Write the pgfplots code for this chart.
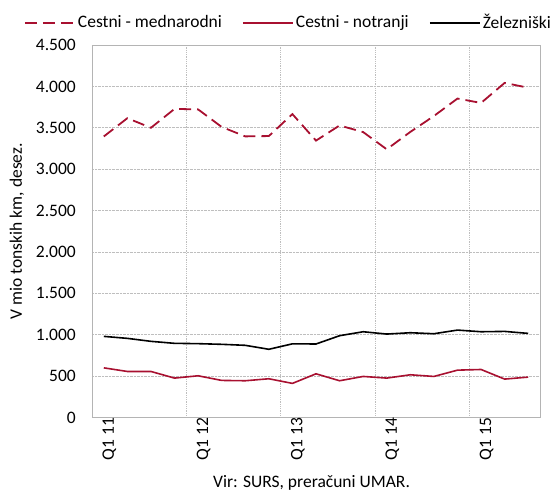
\documentclass[border=0pt]{standalone}
\usepackage{fontspec}
\setmainfont{Carlito}
\usepackage{pgfplots}
\pgfplotsset{compat=1.18}
\definecolor{cestred}{RGB}{168,16,48}
\definecolor{gridgray}{RGB}{190,190,190}
\definecolor{framegray}{RGB}{180,180,180}

% quarters Q1 11 .. Q3 15 at x = 0..18
\begin{document}
\begin{tikzpicture}
\begin{axis}[
    at={(0,0)}, anchor=south west,
    scale only axis,
    width=448bp, height=372.5bp,
    xmin=-0.5, xmax=18.5,
    ymin=0, ymax=4500,
    clip mode=individual,
    xtick={0,4,8,12,16},
    xticklabels={Q1 11, Q1 12, Q1 13, Q1 14, Q1 15},
    minor xtick={3.5,7.5,11.5,15.5},
    xminorgrids, ymajorgrids,
    ytick={0,500,...,4500},
    grid style={gridgray, densely dotted, line width=0.8bp},
    minor grid style={gridgray, densely dotted, line width=0.8bp},
    axis line style={framegray, line width=0.9bp},
    tick style={draw=none},
    font=\fontsize{17.5bp}{20bp}\selectfont,
    /pgf/number format/.cd, 1000 sep={.}, assume math mode=true,
    /pgfplots/.cd,
    yticklabel style={anchor=east, inner sep=0pt, xshift=-16bp},
    xticklabel style={rotate=90, anchor=east, inner sep=0pt, yshift=-5.5bp},
    ylabel={V mio tonskih km, desez.},
    every axis y label/.style={at={([xshift=-75bp]axis description cs:0,0.5)}, rotate=90, anchor=center},
    legend columns=3,
    legend style={draw=none, fill=none, inner sep=0pt, outer sep=0pt,
      at={(axis description cs:0,1)}, anchor=west, xshift=-68bp, yshift=22.5bp,
      font=\fontsize{17.5bp}{20bp}\selectfont,
      nodes={inner sep=2bp},
      /tikz/every even column/.append style={column sep=18bp}},
    legend cell align=left,
    legend image code/.code={\draw[mark repeat=2,mark phase=2,#1,line width=2bp] plot coordinates {(0bp,0bp) (25bp,0bp) (50bp,0bp)};},
  ]
  \addplot[cestred, line width=1.8bp, dash pattern=on 12bp off 6bp] coordinates {
    (0,3395) (1,3616) (2,3500) (3,3728) (4,3722) (5,3510) (6,3396) (7,3400)
    (8,3665) (9,3345) (10,3528) (11,3448) (12,3240) (13,3450) (14,3642)
    (15,3853) (16,3800) (17,4042) (18,3984)
  };
  \addlegendentry{Cestni - mednarodni}
  \addplot[cestred, line width=1.6bp] coordinates {
    (0,600) (1,556) (2,556) (3,476) (4,504) (5,448) (6,444) (7,468) (8,412)
    (9,528) (10,444) (11,496) (12,476) (13,516) (14,496) (15,572) (16,580)
    (17,464) (18,488)
  };
  \addlegendentry{Cestni - notranji}
  \addplot[black, line width=1.6bp] coordinates {
    (0,980) (1,956) (2,920) (3,896) (4,892) (5,884) (6,872) (7,824) (8,890)
    (9,888) (10,988) (11,1036) (12,1008) (13,1024) (14,1012) (15,1056)
    (16,1036) (17,1040) (18,1016)
  };
  \addlegendentry{Železniški}
  \node[font=\fontsize{17.5bp}{20bp}\selectfont, anchor=center] at (axis description cs:0.49,0) [yshift=-65.5bp] {Vir: SURS, preračuni UMAR.};
\end{axis}
\pgfresetboundingbox
\useasboundingbox (-92bp,-74.5bp) rectangle (460bp,417.5bp);
\end{tikzpicture}
\end{document}
